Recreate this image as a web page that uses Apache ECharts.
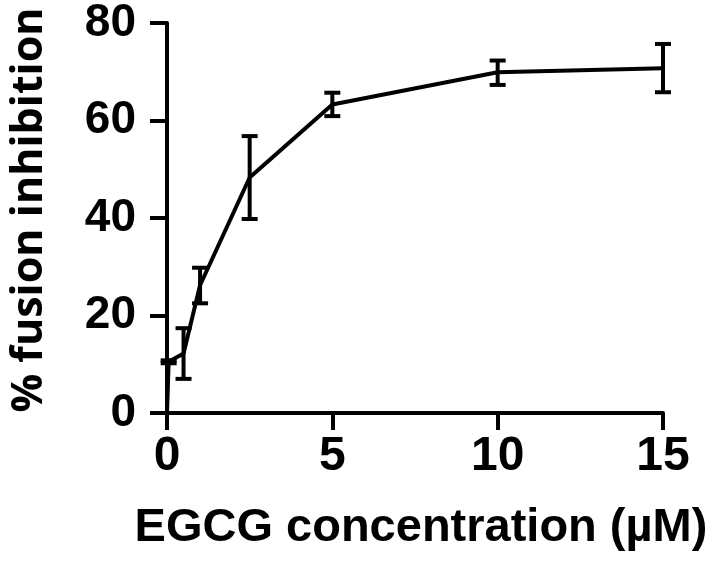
<!DOCTYPE html>
<html>
<head>
<meta charset="utf-8">
<script src="https://cdn.jsdelivr.net/npm/echarts@6/dist/echarts.min.js"></script>
<style>
  html, body { margin: 0; padding: 0; background: #fff; }
  #chart { width: 709px; height: 562px; }
</style>
</head>
<body>
<div id="chart"></div>
<script>
// EGCG concentration (µM)
const conc = [0, 0.05, 0.5, 1, 2.5, 5, 10, 15];
// mean % fusion inhibition
const meanInhib = [0, 10.5, 12.2, 26.2, 48.3, 63.3, 69.9, 70.7];
// error bar low / high
const errLow = [0, 10.2, 7.0, 22.5, 39.8, 60.9, 67.3, 65.8];
const errHigh = [0, 10.8, 17.4, 29.8, 56.8, 65.7, 72.3, 75.7];

const xTicks = [0, 5, 10, 15];
const yTicks = [0, 20, 40, 60, 80];

const chart = echarts.init(document.getElementById('chart'));

const lineData = conc.map((c, i) => [c, meanInhib[i]]);
const errData = conc.map((c, i) => [c, errLow[i], errHigh[i]]);

const option = {
  animation: false,
  grid: { left: 162, right: 46, top: 23, bottom: 149 },
  xAxis: {
    type: 'value',
    min: xTicks[0],
    max: xTicks[xTicks.length - 1],
    interval: 5,
    splitLine: { show: false },
    axisLine: { onZero: false, lineStyle: { color: '#000', width: 4 } },
    axisTick: { inside: false, length: 17, lineStyle: { color: '#000', width: 4 } },
    axisLabel: {
      color: '#000', fontSize: 48, fontWeight: 'bold',
      fontFamily: 'Liberation Sans', margin: 20
    },
    name: 'EGCG concentration (µM)',
    nameLocation: 'middle',
    nameGap: 92,
    nameTextStyle: {
      color: '#000', fontSize: 47, fontWeight: 'bold', fontFamily: 'Liberation Sans',
      padding: [0, 0, 0, 12]
    }
  },
  yAxis: {
    type: 'value',
    min: yTicks[0],
    max: yTicks[yTicks.length - 1],
    interval: 20,
    splitLine: { show: false },
    axisLine: { onZero: false, lineStyle: { color: '#000', width: 4 } },
    axisTick: { inside: false, length: 17, lineStyle: { color: '#000', width: 4 } },
    axisLabel: {
      color: '#000', fontSize: 46, fontWeight: 'bold',
      fontFamily: 'Liberation Sans', margin: 31
    },
    name: '% fusion inhibition',
    nameLocation: 'middle',
    nameRotate: 90,
    nameGap: 116,
    nameTextStyle: {
      color: '#000', fontSize: 43, fontWeight: 'bold', fontFamily: 'Open Sans',
      padding: [0, 0, 0, 16]
    }
  },
  series: [
    {
      type: 'line',
      data: lineData,
      symbol: 'none',
      lineStyle: { color: '#000', width: 4 },
      z: 3
    },
    {
      // error bars
      type: 'custom',
      data: errData,
      z: 4,
      renderItem: function (params, api) {
        const x = api.value(0);
        const lo = api.coord([x, api.value(1)]);
        const hi = api.coord([x, api.value(2)]);
        if (Math.abs(hi[1] - lo[1]) < 0.5) return null;
        const half = 8;
        const style = { stroke: '#000', lineWidth: 4 };
        return {
          type: 'group',
          children: [
            { type: 'line', shape: { x1: hi[0], y1: hi[1], x2: lo[0], y2: lo[1] }, style: style },
            { type: 'line', shape: { x1: hi[0] - half, y1: hi[1], x2: hi[0] + half, y2: hi[1] }, style: style },
            { type: 'line', shape: { x1: lo[0] - half, y1: lo[1], x2: lo[0] + half, y2: lo[1] }, style: style }
          ]
        };
      }
    }
  ]
};

chart.setOption(option);
</script>
</body>
</html>
